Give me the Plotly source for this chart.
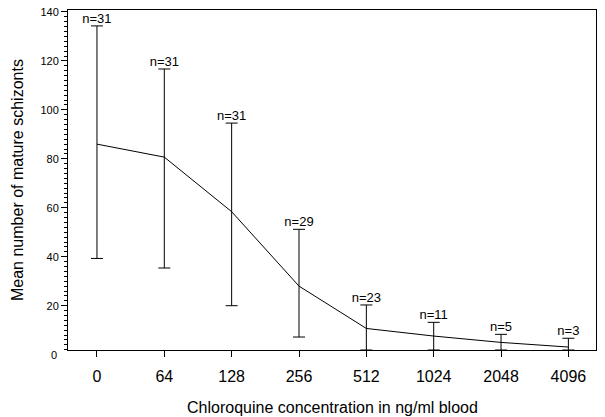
import plotly.graph_objects as go

categories = ["0", "64", "128", "256", "512", "1024", "2048", "4096"]
means = [86.0, 80.7, 58.4, 28.0, 10.7, 7.6, 5.0, 3.1]
upper = [134.3, 116.7, 94.6, 51.2, 20.3, 13.2, 8.3, 6.7]
lower = [39.3, 35.4, 20.0, 7.2, 1.9, 1.9, 1.9, 1.9]
n_labels = ["n=31", "n=31", "n=31", "n=29", "n=23", "n=11", "n=5", "n=3"]
y_range = [1.9, 140.8]
y_major_step = 20
y_minor_step = 2

xs = list(range(len(categories)))
err_plus = [u - m for u, m in zip(upper, means)]
err_minus = [m - l for m, l in zip(means, lower)]

FONT = "Liberation Sans, Arial, sans-serif"
W, H = 605, 417
ML, MR, MT, MB = 68, 9, 10, 67
PW, PH = W - ML - MR, H - MT - MB

fig = go.Figure()
fig.add_trace(go.Scatter(
    x=xs, y=means, mode="lines",
    line=dict(color="black", width=1),
    error_y=dict(type="data", symmetric=False, array=err_plus, arrayminus=err_minus,
                 color="black", thickness=1, width=6),
    showlegend=False, cliponaxis=False,
))
fig.add_trace(go.Scatter(
    x=xs, y=upper, mode="text", text=n_labels, textposition="top center",
    textfont=dict(family=FONT, size=13, color="black"),
    showlegend=False, cliponaxis=False,
))

# "0" tick label sits just below the x axis line
zero_pos = (0 - y_range[0]) / (y_range[1] - y_range[0])
fig.add_annotation(x=0, xref="paper", xanchor="right", xshift=-9, y=zero_pos, yref="paper",
                   yanchor="middle", text="0", showarrow=False,
                   font=dict(family=FONT, size=11, color="black"))
# axis titles
fig.add_annotation(x=(17 - ML) / PW, xref="paper", y=0.5, yref="paper",
                   text="Mean number of mature schizonts",
                   textangle=-90, showarrow=False, font=dict(family=FONT, size=16, color="black"),
                   xanchor="center", yanchor="middle")
fig.add_annotation(x=0.5, xref="paper", y=-(407 - (MT + PH)) / PH, yref="paper",
                   text="Chloroquine concentration in ng/ml blood", showarrow=False,
                   font=dict(family=FONT, size=16, color="black"), xanchor="center", yanchor="middle")

fig.update_layout(
    width=W, height=H,
    margin=dict(l=ML, r=MR, t=MT, b=MB, pad=0),
    paper_bgcolor="white", plot_bgcolor="white",
    font=dict(family=FONT, color="black"),
    xaxis=dict(
        range=[-0.43, 7.41], tickmode="array", tickvals=xs, ticktext=categories,
        ticks="outside", ticklen=6, tickcolor="black", tickwidth=1,
        showline=True, linecolor="black", linewidth=1, mirror=True,
        showgrid=False, zeroline=False, automargin=False,
        tickfont=dict(family=FONT, size=16), ticklabelstandoff=6,
    ),
    yaxis=dict(
        range=y_range, tickmode="linear", tick0=0, dtick=y_major_step,
        ticks="outside", ticklen=6, tickcolor="black", tickwidth=1,
        minor=dict(dtick=y_minor_step, ticks="outside", ticklen=3, tickcolor="black", tickwidth=1),
        showline=True, linecolor="black", linewidth=1, mirror=True,
        showgrid=False, zeroline=False, automargin=False,
        tickfont=dict(family=FONT, size=11),
    ),
)

fig.write_html("out.html", config={"displayModeBar": False},
               post_script="document.body.style.margin='0';document.body.style.padding='0';")
